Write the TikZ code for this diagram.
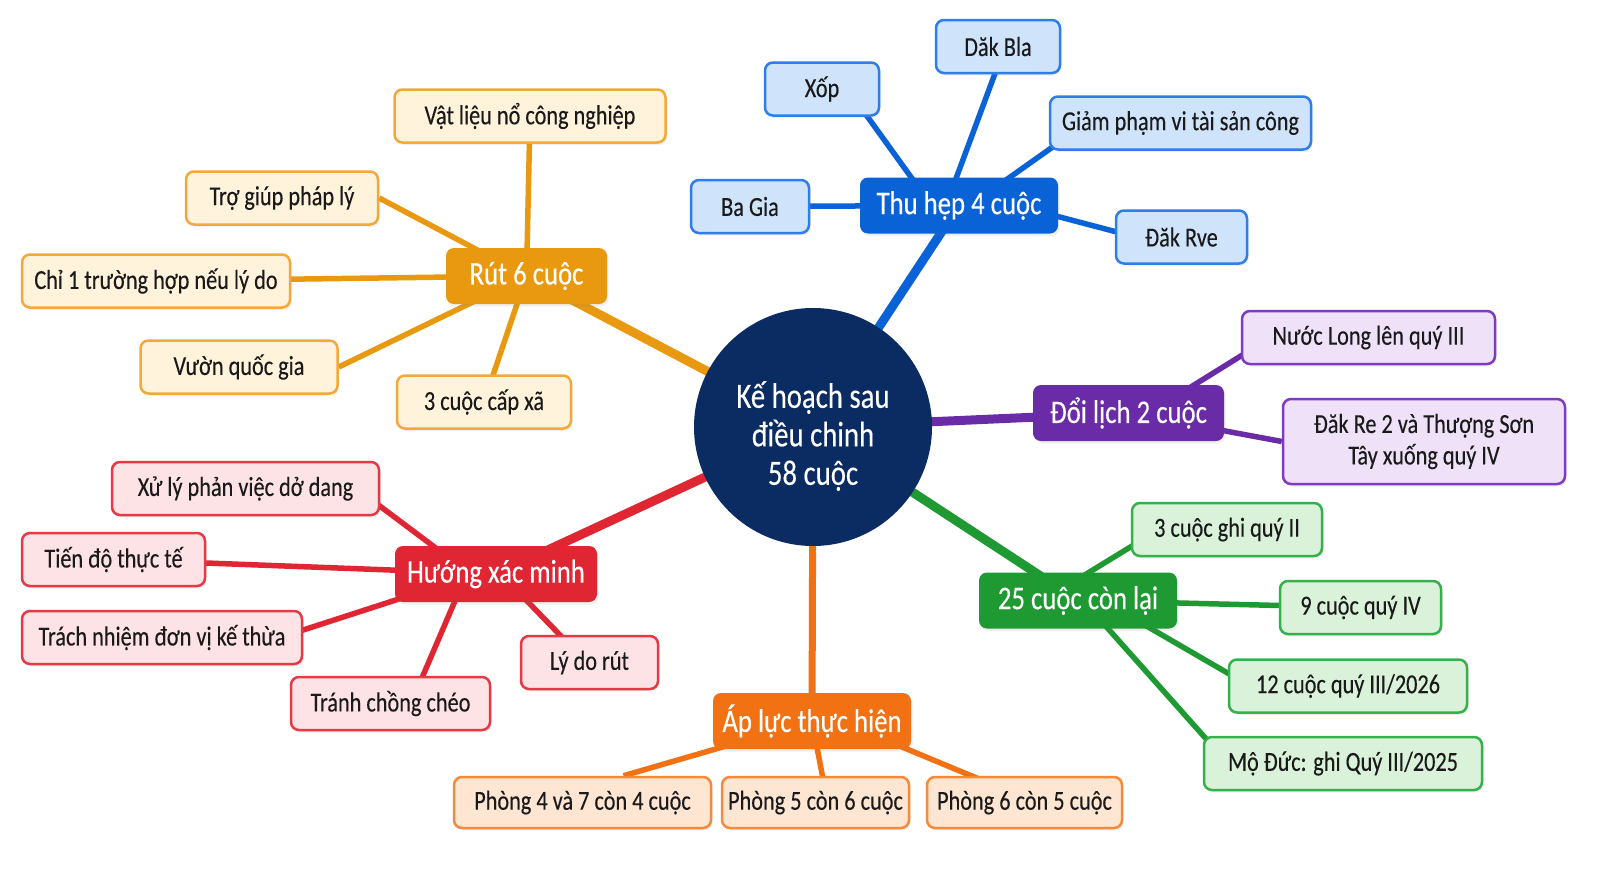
\documentclass[tikz,border=0pt]{standalone}
\usepackage{fontspec}
\setmainfont{Carlito}[FakeStretch=0.81,FakeBold=0.25]
\usetikzlibrary{backgrounds,shadows}
\definecolor{navy}{HTML}{0B2C62}
\definecolor{orA}{HTML}{E8990F}\definecolor{orAb}{HTML}{F3A93A}\definecolor{orAf}{HTML}{FFF3DC}
\definecolor{blA}{HTML}{0A63D6}\definecolor{blAb}{HTML}{2F7CEB}\definecolor{blAf}{HTML}{CFE4FB}
\definecolor{puA}{HTML}{6A2BA6}\definecolor{puAb}{HTML}{7E3BC4}\definecolor{puAf}{HTML}{EEE1F8}
\definecolor{grA}{HTML}{1F9A32}\definecolor{grAb}{HTML}{36B04A}\definecolor{grAf}{HTML}{DAF2DA}
\definecolor{apA}{HTML}{F27113}\definecolor{apAb}{HTML}{F58A3A}\definecolor{apAf}{HTML}{FFE6D2}
\definecolor{reA}{HTML}{E02633}\definecolor{reAb}{HTML}{E63946}\definecolor{reAf}{HTML}{FDE3E6}
\definecolor{ink}{HTML}{1A1A1A}
\tikzset{
  soft/.style={drop shadow={opacity=0.12, shadow xshift=1.5pt, shadow yshift=-2.5pt}},
  leaf/.style={draw=#1b, fill=#1f, line width=2.5pt, rounded corners=8pt, minimum height=53pt,
    inner xsep=6pt, font=\fontsize{27.5}{31}\selectfont, text=ink, align=center, soft},
  branch/.style={fill=#1, rounded corners=8pt, minimum height=56pt, inner xsep=6pt,
    font=\fontsize{33}{37}\selectfont, text=white, soft},
  trunk/.style={line width=9pt, draw=#1},
  twig/.style={line width=5.5pt, draw=#1},
}
\begin{document}
\begin{tikzpicture}[x=1pt,y=-1pt]
\useasboundingbox (0,0) rectangle (1600,878);
% center
\node[circle, fill=navy, minimum size=238pt, inner sep=0pt] (c) at (813,427) {};
\node[text=white, align=center, font=\fontsize{35.5}{38.5}\selectfont] (ct) at (813,436) {Kế hoạch sau\\điều chinh\\58 cuộc};
% Rut branch
\node[branch=orA, minimum width=161pt] (rut) at (526.5,276) {Rút 6 cuộc};
\node[leaf=orA, minimum width=271pt] (vl) at (530,116) {Vật liệu nổ công nghiệp};
\node[leaf=orA, minimum width=192pt] (tg) at (282,198) {Trợ giúp pháp lý};
\node[leaf=orA, minimum width=268pt] (chi) at (156,281) {Chỉ 1 trường hợp nếu lý do};
\node[leaf=orA, minimum width=197pt] (vuon) at (239,367) {Vườn quốc gia};
\node[leaf=orA, minimum width=174pt] (cx) at (484,402) {3 cuộc cấp xã};
% Thu hep branch
\node[branch=blA, minimum width=198pt] (thu) at (959,205.5) {Thu hẹp 4 cuộc};
\node[leaf=blA, minimum width=114pt] (xop) at (822,89) {Xốp};
\node[leaf=blA, minimum width=124pt] (bla) at (998,46.5) {Dăk Bla};
\node[leaf=blA, minimum width=261pt] (giam) at (1180.5,123) {Giảm phạm vi tài sản công};
\node[leaf=blA, minimum width=118pt] (bagia) at (750,206.5) {Ba Gia};
\node[leaf=blA, minimum width=131pt] (rve) at (1181.5,237) {Đăk Rve};
% Doi lich branch
\node[branch=puA, minimum width=191pt] (doi) at (1128.5,413) {Đổi lịch 2 cuộc};
\node[leaf=puA, minimum width=253pt] (nuoc) at (1368.5,337.5) {Nước Long lên quý III};
\node[leaf=puA, minimum width=282pt, minimum height=85pt, font=\fontsize{27.5}{31.5}\selectfont] (dakre) at (1424,441.5) {Đăk Re 2 và Thượng Sơn\\Tây xuống quý IV};
% 25 cuoc branch
\node[branch=grA, minimum width=198pt] (g) at (1078,600.5) {25 cuộc còn lại};
\node[leaf=grA, minimum width=190pt] (g1) at (1227,529.5) {3 cuộc ghi quý II};
\node[leaf=grA, minimum width=161pt] (g2) at (1360.5,607.5) {9 cuộc quý IV};
\node[leaf=grA, minimum width=238pt] (g3) at (1348,686) {12 cuộc quý III/2026};
\node[leaf=grA, minimum width=278pt] (g4) at (1343,763.5) {Mộ Đức: ghi Quý III/2025};
% Ap luc branch
\node[branch=apA, minimum width=198pt] (ap) at (812,721) {Áp lực thực hiện};
\node[leaf=apA, minimum width=257pt, minimum height=51pt] (p1) at (582.5,802.5) {Phòng 4 và 7 còn 4 cuộc};
\node[leaf=apA, minimum width=187pt, minimum height=51pt] (p2) at (815.5,802.5) {Phòng 5 còn 6 cuộc};
\node[leaf=apA, minimum width=195pt, minimum height=51pt] (p3) at (1024.5,802.5) {Phòng 6 còn 5 cuộc};
% Huong xac minh branch
\node[branch=reA, minimum width=202pt] (h) at (496,574) {Hướng xác minh};
\node[leaf=reA, minimum width=267pt] (xl) at (245.5,488.5) {Xử lý phản việc dở dang};
\node[leaf=reA, minimum width=183pt] (td) at (113.5,559.5) {Tiến độ thực tế};
\node[leaf=reA, minimum width=280pt] (tn) at (162,637.5) {Trách nhiệm đơn vị kế thừa};
\node[leaf=reA, minimum width=199pt] (tr) at (390.5,703.5) {Tránh chồng chéo};
\node[leaf=reA, minimum width=137pt] (ld) at (589.5,662.5) {Lý do rút};
\begin{scope}[on background layer]
\fill[white] (0,0) rectangle (1600,878);
% trunks
\draw[trunk=orA] (c.center) -- (rut.center);
\draw[trunk=blA] (c.center) -- (thu.center);
\draw[trunk=puA] (c.center) -- (doi.center);
\draw[trunk=grA] (c.center) -- (g.center);
\draw[trunk=apA, line width=7pt] (c.center) -- (ap.center);
\draw[trunk=reA] (c.center) -- (h.center);
% rut twigs
\draw[twig=orA] (vl.center) -- (rut.center);
\draw[twig=orA] (tg.east) -- (rut.center);
\draw[twig=orA] (chi.center) -- (rut.center);
\draw[twig=orA] (vuon.east) -- (rut.center);
\draw[twig=orA] (cx.center) -- (rut.center);
% thu twigs
\draw[twig=blA] ([xshift=25.5pt]xop.center) -- ([xshift=-27.5pt]thu.center);
\draw[twig=blA] ([xshift=7pt]bla.center) -- ([xshift=-13pt]thu.center);
\draw[twig=blA] ([xshift=-94pt]giam.center) -- ([xshift=11pt]thu.center);
\draw[twig=blA] (bagia.center) -- (thu.center);
\draw[twig=blA] ([yshift=15pt]thu.center) -- ([yshift=-12pt]rve.center);
% doi twigs
\draw[twig=puA] ([xshift=20.5pt]doi.center) -- ([xshift=-98pt]nuoc.center);
\draw[twig=puA] (doi.center) -- (dakre.west);
% green twigs
\draw[twig=grA] ([xshift=-35pt]g.center) -- ([xshift=-68pt]g1.center);
\draw[twig=grA] (g.center) -- (g2.center);
\draw[twig=grA] ([xshift=24.5pt]g.center) -- ([xshift=-98pt]g3.center);
\draw[twig=grA] ([xshift=5pt]g.center) -- ([xshift=-115pt]g4.center);
% ap twigs
\draw[twig=apA] ([xshift=41pt]p1.north) -- (ap.center);
\draw[twig=apA] (ap.center) -- ([xshift=12pt]p2.center);
\draw[twig=apA] ([xshift=27.5pt]ap.center) -- ([xshift=11pt]p3.center);
% red twigs
\draw[twig=reA] ([xshift=111pt]xl.center) -- ([xshift=-25.5pt]h.center);
\draw[twig=reA] (td.center) -- (h.center);
\draw[twig=reA] ([xshift=118pt]tn.center) -- ([xshift=-20pt]h.center);
\draw[twig=reA] ([xshift=20.5pt]tr.center) -- ([xshift=-29.5pt]h.center);
\draw[twig=reA] ([xshift=5pt]h.center) -- ([xshift=-3pt]ld.center);
\end{scope}
\end{tikzpicture}
\end{document}
